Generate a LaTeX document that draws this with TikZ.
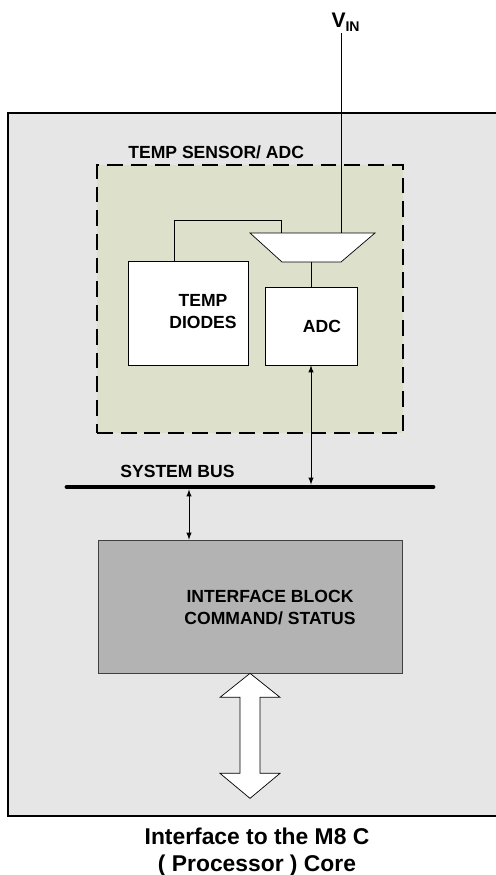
\documentclass[tikz,border=0pt]{standalone}
\usepackage{fontspec}
\setmainfont{Liberation Sans}
\usepackage{tikz}
\usetikzlibrary{arrows,positioning,calc}
\definecolor{chipgray}{HTML}{E6E6E6}
\definecolor{sensorgreen}{HTML}{DDE1CC}
\definecolor{blockgray}{HTML}{B3B3B3}
\tikzset{block/.style={draw=black,thin,fill=white,inner sep=0pt}}
\tikzset{lbl/.style={font=\bfseries\fontsize{10}{12.5}\selectfont,align=center,inner sep=0pt}}

\begin{document}
\begin{tikzpicture}[x=0.02cm, y=-0.02cm, >=latex, thin]
\useasboundingbox (0,0) rectangle (495,875);
    % chip and sensor area
    \draw[fill=chipgray, line width=1.1pt] (8,113) rectangle (510,816);
    \node[draw=black, fill=sensorgreen, line width=1.6pt, dash pattern=on 9pt off 4.5pt,
          minimum width=6.12cm, minimum height=5.36cm] (sensor) at (250,299) {};
    \node[lbl, anchor=west] (sensorlbl) at (128,152) {TEMP SENSOR/ ADC};
    \node[block, minimum width=2.4cm, minimum height=2.08cm] (diodes) at (188,313) {};
    \node[lbl] (diodeslbl) at (203,312) {TEMP\\DIODES};
    \node[block, minimum width=1.84cm, minimum height=1.56cm] (adc) at (311,326) {};
    \node[lbl] (adclbl) at (322,326) {ADC};
    % mux
    \draw[block] (250,233) -- (375,233) -- (341,262) -- (282,262) -- cycle;
    \coordinate (muxin) at (341,233);
    \coordinate (muxsel) at (281,233);
    \coordinate (muxout) at (311,262);
    \node[font=\bfseries\fontsize{12}{14}\selectfont, inner sep=1pt, anchor=base] (vin) at (346,28) {V\textsubscript{\fontsize{8}{9}\selectfont IN}};
    \draw (vin.south -| muxin) -- (muxin);
    \draw ([xshift=-0.28cm]diodes.north) |- ($(muxsel)+(0,-13)$) -- (muxsel);
    \draw (muxout) -- (adc.north);
    % system bus
    \coordinate (busL) at (67,487);
    \coordinate (busR) at (433,487);
    \coordinate (busT) at (189,487);
    \draw[line width=2.8pt, line cap=round] (busL) -- (busR);
    \node[lbl, anchor=west] (buslbl) at (120,471) {SYSTEM BUS};
    \node[draw=black!75, fill=blockgray, minimum width=6.08cm, minimum height=2.66cm] (iface) at (250,606.5) {};
    \node[lbl] (ifacelbl) at (270,608) {INTERFACE BLOCK\\COMMAND/ STATUS};
    \draw[<->, shorten >=1.4pt] (adc.south) -- (adc.south |- busL);
    \draw[<->, shorten <=1.4pt] (busT) -- (busT |- iface.north);
    % core interface
    \draw[fill=white] (iface.south) -- ++(30,24) -- ++(-20,0) -- ++(0,76) -- ++(20,0) -- ++(-30,25)
        -- ++(-30,-25) -- ++(20,0) -- ++(0,-76) -- ++(-20,0) -- cycle;
    \node[font=\bfseries\fontsize{13}{15}\selectfont, align=center, inner sep=0pt] (corelbl) at (257,852) {Interface to the M8 C\\( Processor ) Core};
\end{tikzpicture}
\end{document}
